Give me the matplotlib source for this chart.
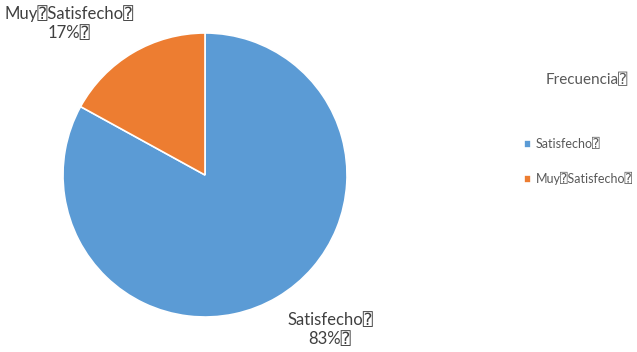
import matplotlib
matplotlib.use("Agg")
from matplotlib import pyplot as plt
import numpy as np

categorias = ["Satisfecho⍰", "Muy⍰Satisfecho⍰"]
porcentajes = [83, 17]
colores = ["#5B9BD5", "#ED7D31"]
titulo_leyenda = "Frecuencia⍰"

plt.rcParams['font.family'] = ['Lato', 'DejaVu Sans', 'DejaVu Sans Mono']

fig = plt.figure(figsize=(6.37, 3.52), dpi=100)
ax = fig.add_axes([0, 0, 1, 1])

wedges, _ = ax.pie(porcentajes, colors=colores, startangle=90, counterclock=False,
                   wedgeprops=dict(edgecolor='white', linewidth=1.2))

# 1 unit = 142 px, pie centre at (205, 175) px from top-left
r_px = 142
ax.set_xlim(-205 / r_px, (637 - 205) / r_px)
ax.set_ylim(-(352 - 175) / r_px, 175 / r_px)
ax.set_aspect('auto')
ax.axis('off')

# data labels
pos_labels = [(0.88, -1.09), (-0.96, 1.07)]
for (x, y), cat, p in zip(pos_labels, categorias, porcentajes):
    ax.text(x, y, f"{cat}\n{p}%⍰", ha='center', va='center', fontsize=12,
            color='#404040', linespacing=1.25)

fig.text(587 / 637, 1 - 80 / 352, titulo_leyenda, ha='center', va='center',
         fontsize=11, color='#595959')

leg = ax.legend(wedges, categorias, loc='upper left', bbox_to_anchor=(513 / 637, 1 - 127 / 352),
                frameon=False, fontsize=9, labelspacing=1.75, handlelength=0.55,
                handleheight=0.55, handletextpad=0.4, labelcolor='#595959')

fig.savefig("out.png", dpi=100)
